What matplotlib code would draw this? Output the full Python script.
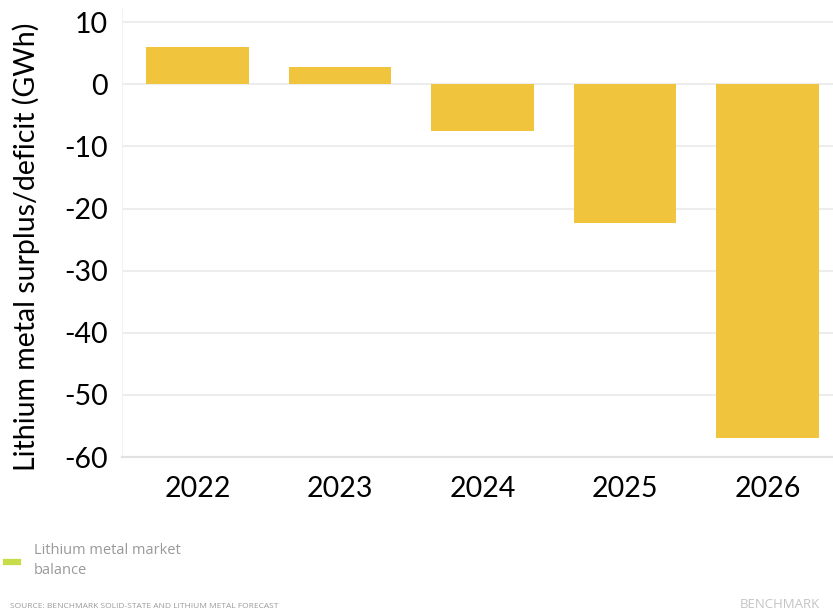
import matplotlib.pyplot as plt

# Market balance per year (GWh)
years = ["2022", "2023", "2024", "2025", "2026"]
balance = [6.1, 2.8, -7.5, -22.3, -57.0]
y_ticks = [10, 0, -10, -20, -30, -40, -50, -60]

bar_color = "#F0C43C"
grid_color = "#EDEDED"

fig = plt.figure(figsize=(8.33, 6.16), dpi=100)
ax = fig.add_axes([122 / 833, (616 - 457) / 616, 711 / 833, 449 / 616])

x = list(range(len(years)))
ax.bar(x, balance, width=0.72, color=bar_color, zorder=2)

ax.set_xlim(-0.53, 4.46)
ax.set_ylim(-60, 12.3)
ax.set_yticks(y_ticks)
ax.set_yticklabels([str(v) for v in y_ticks], fontsize=20.5, family="Lato")
ax.set_xticks(x)
ax.set_xticklabels(years, fontsize=20.5, family="Lato")
ax.tick_params(length=0, pad=10)
ax.tick_params(axis="x", pad=14)

ax.yaxis.grid(True, color=grid_color, linewidth=1.5, zorder=0)
ax.set_axisbelow(True)
for side in ["top", "right"]:
    ax.spines[side].set_visible(False)
ax.spines["left"].set_color("#F2F2F2")
ax.spines["bottom"].set_color("#E2E2E2")
ax.spines["bottom"].set_linewidth(1.5)

ax.set_ylabel("Lithium metal surplus/deficit (GWh)", fontsize=20.5, family="Lato")
ax.yaxis.set_label_coords(-82 / 711, 0.5 - 14 / 449)

# legend and footer
fig.add_artist(plt.Line2D([6 / 833, 18 / 833], [1 - 562 / 616, 1 - 562 / 616],
                          color="#C8DC4A", linewidth=4.5))
fig.text(34 / 833, 1 - 551 / 616, "Lithium metal market", fontsize=10.5, color="#999999",
         family="Open Sans", va="center")
fig.text(34 / 833, 1 - 571 / 616, "balance", fontsize=10.5, color="#999999",
         family="Open Sans", va="center")
fig.text(10 / 833, 1 - 606 / 616, "SOURCE: BENCHMARK SOLID-STATE AND LITHIUM METAL FORECAST",
         fontsize=6, color="#9A9A9A", family="Open Sans", va="center")
fig.text(780 / 833, 1 - 605 / 616, "BENCHMARK", fontsize=9.5, color="#C4C4C4",
         family="Open Sans", va="center", ha="center")

fig.savefig("out.png", dpi=100, facecolor="white")
